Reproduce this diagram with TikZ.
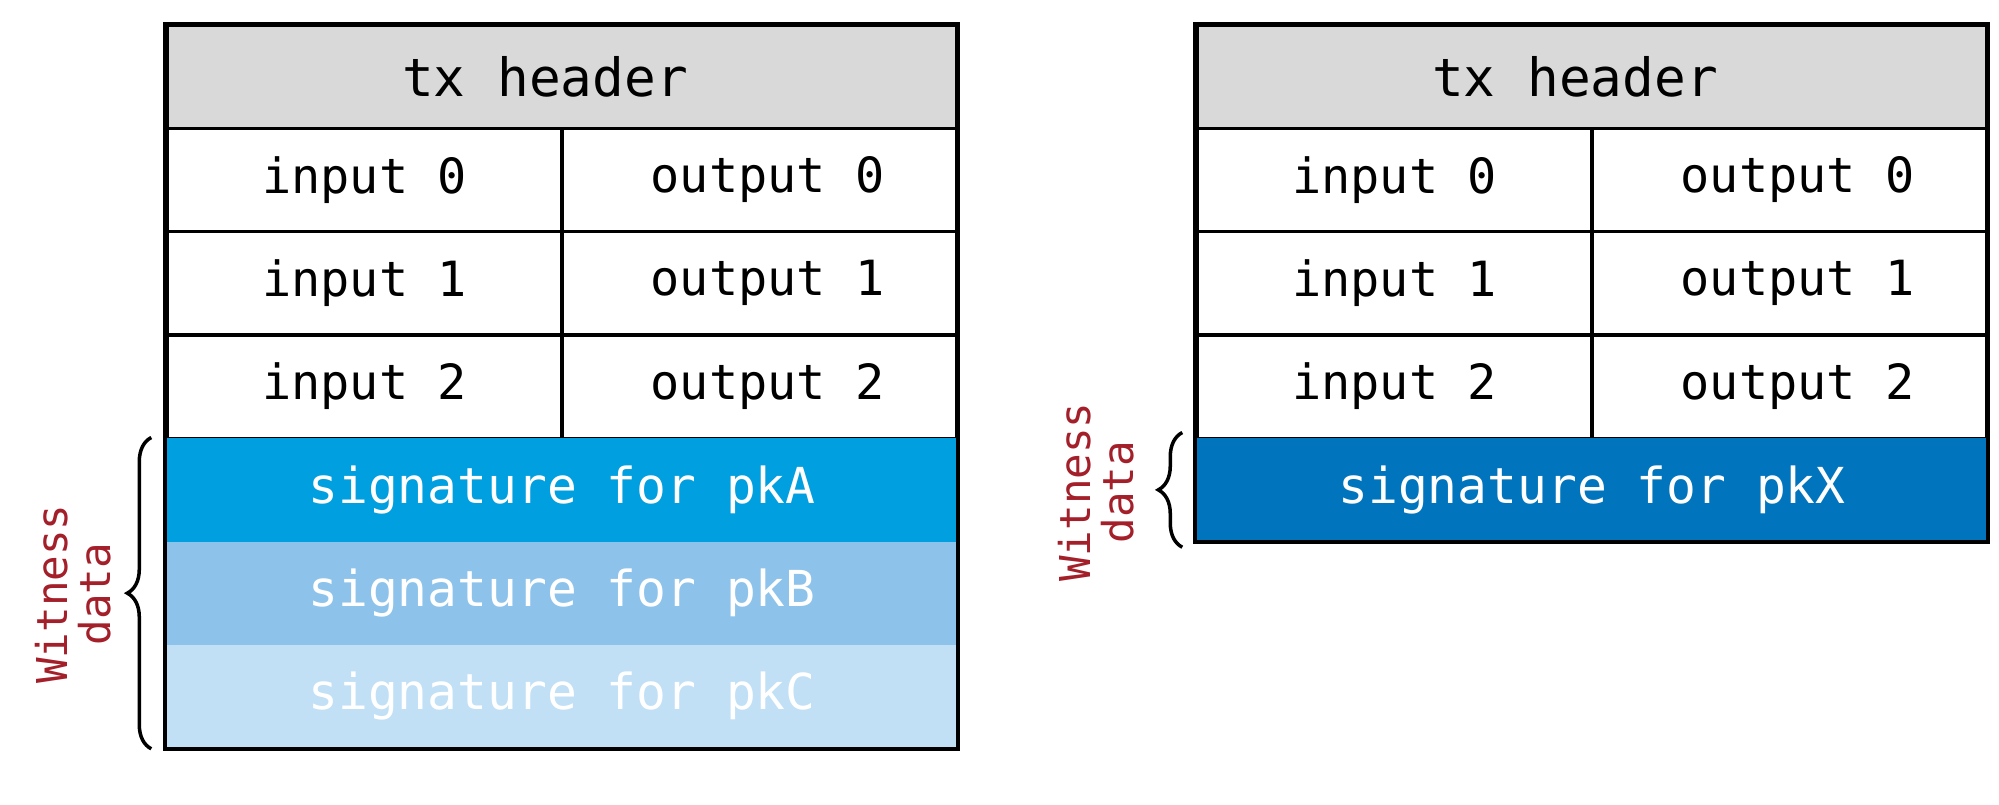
\documentclass[tikz,border=0pt]{standalone}
\usepackage{fontspec}
\setmonofont{DejaVu Sans Mono}
\usetikzlibrary{decorations.pathreplacing}

\definecolor{hdrgray}{HTML}{D9D9D9}
\definecolor{sigAblue}{HTML}{009FDF}
\definecolor{sigBblue}{HTML}{8DC3EB}
\definecolor{sigCblue}{HTML}{C1E0F6}
\definecolor{sigXblue}{HTML}{0075BD}
\definecolor{witred}{HTML}{A31F2A}

\begin{document}
\begin{tikzpicture}[
  cell/.style = {draw, line width=0.9pt, inner sep=0pt, minimum width=3.95cm, minimum height=1.033cm,
    font=\ttfamily\fontsize{13.8}{14}\selectfont},
  outcell/.style = {cell, execute at begin node={\hspace*{0.16cm}}},
  hdr/.style = {cell, fill=hdrgray, minimum width=7.9cm, font=\ttfamily\fontsize{15}{15}\selectfont},
  sigrow/.style = {inner sep=0pt, minimum width=7.9cm, minimum height=1.033cm, text=white,
    font=\ttfamily\fontsize{14.1}{14}\selectfont},
  witness/.style = {rotate=90, align=center, text=witred, inner sep=0pt,
    font=\ttfamily\fontsize{12.1}{12.2}\selectfont},
  brace/.style = {decorate, decoration={brace, amplitude=0.24cm}, line width=1pt}
]
\useasboundingbox (0,0) rectangle (19.99,-8.04);

% left transaction
\node [hdr] (hdrL) at (5.62,-0.7665) {tx header\hspace*{0.34cm}};
\foreach \i/\y in {0/-1.7995, 1/-2.8325, 2/-3.8655} {
  \node [cell] (inL\i) at (3.645,\y) {input \i};
  \node [outcell] (outL\i) at (7.595,\y) {output \i};
}
\node [sigrow, fill=sigAblue] (sigA) at (5.62,-4.8985) {signature for pkA};
\node [sigrow, fill=sigBblue] (sigB) at (5.62,-5.9315) {signature for pkB};
\node [sigrow, fill=sigCblue] (sigC) at (5.62,-6.9645) {signature for pkC};
\draw [line width=1.1pt] (hdrL.north west) rectangle (sigC.south east);
\draw [brace] ([xshift=-0.15cm]sigC.south west) -- ([xshift=-0.15cm]sigA.north west);
\node [witness] (witL) at (0.73,-5.94) {Witness\\data};

% right transaction
\node [hdr] (hdrR) at (15.92,-0.7665) {tx header\hspace*{0.34cm}};
\foreach \i/\y in {0/-1.7995, 1/-2.8325, 2/-3.8655} {
  \node [cell] (inR\i) at (13.945,\y) {input \i};
  \node [outcell] (outR\i) at (17.895,\y) {output \i};
}
\node [sigrow, fill=sigXblue] (sigX) at (15.92,-4.8985) {signature for pkX};
\draw [line width=1.1pt] (hdrR.north west) rectangle (sigX.south east);
\draw [brace] ([xshift=-0.14cm,yshift=-0.05cm]sigX.south west) -- ([xshift=-0.14cm,yshift=0.05cm]sigX.north west);
\node [witness] (witR) at (10.96,-4.92) {Witness\\data};
\end{tikzpicture}
\end{document}
